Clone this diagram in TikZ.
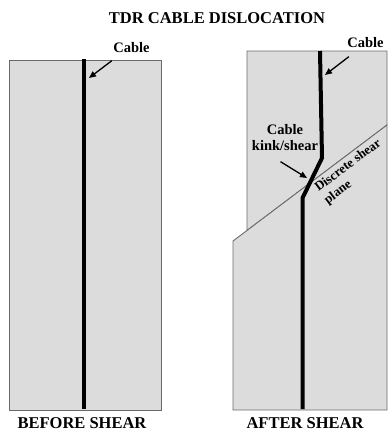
\documentclass[tikz,border=0pt]{standalone}
\usepackage{fontspec}
\setmainfont{Liberation Serif}
\usetikzlibrary{arrows.meta}
\definecolor{blockfill}{RGB}{220,220,220}
\definecolor{blockedge}{RGB}{110,105,105}
\begin{document}
\begin{tikzpicture}[x=1pt,y=-1pt,
  block/.style={fill=blockfill,draw=blockedge,line width=0.9pt},
  cable/.style={line width=4pt,black},
  pointer/.style={line width=1.3pt,-{Triangle[length=7pt,width=6pt]}},
  lbl/.style={font=\fontsize{14.5}{16}\selectfont\bfseries},
  head/.style={font=\fontsize{16.5}{18}\selectfont\bfseries},
  planelbl/.style={font=\fontsize{13}{15.5}\selectfont\bfseries},
]
\useasboundingbox (0,0) rectangle (388,431);

% intact block with straight cable
\draw[block] (9,60.5) rectangle (161,410);
\draw[cable] (84,59) -- (84,409);

% sheared block: upper and lower parts meeting on the shear plane
\coordinate (sp1) at (233,241);
\coordinate (sp2) at (387,125);
\draw[block] (247,51) -- (387,51) -- (sp2) -- (247,230.5) -- cycle;
\draw[block] (sp1) -- (sp2) -- (387,410) -- (233,410) -- cycle;
\draw[cable] (320,51) -- (322,158) -- (302.5,198) -- (302.5,409);

% labels (multi-line nodes sit on the baseline of their last line)
\node[head,anchor=base] (title) at (217,23.5) {TDR CABLE DISLOCATION};
\node[lbl,anchor=base] (cableL) at (131.5,52) {Cable};
\node[lbl,anchor=base] (cableR) at (365.5,47) {Cable};
\node[lbl,anchor=base,align=center] (kink) at (285,150) {Cable\\kink/shear};
\node[planelbl,rotate=36.8,anchor=base west,align=left] (plane) at (325,206.5) {Discrete shear\\plane};
\node[head,anchor=base] (before) at (82,428) {BEFORE SHEAR};
\node[head,anchor=base] (after) at (305,428) {AFTER SHEAR};

% pointers
\coordinate (tipL) at (89,78);
\coordinate (tipR) at (325,75);
\coordinate (tipK) at (307,178);
\draw[pointer] ([xshift=2pt,yshift=-5pt]cableL.south west) -- (tipL);
\draw[pointer] ([xshift=5pt,yshift=-6pt]cableR.south west) -- (tipR);
\draw[pointer] ([xshift=-4.5pt,yshift=-8pt]kink.south) -- (tipK);
\end{tikzpicture}
\end{document}
